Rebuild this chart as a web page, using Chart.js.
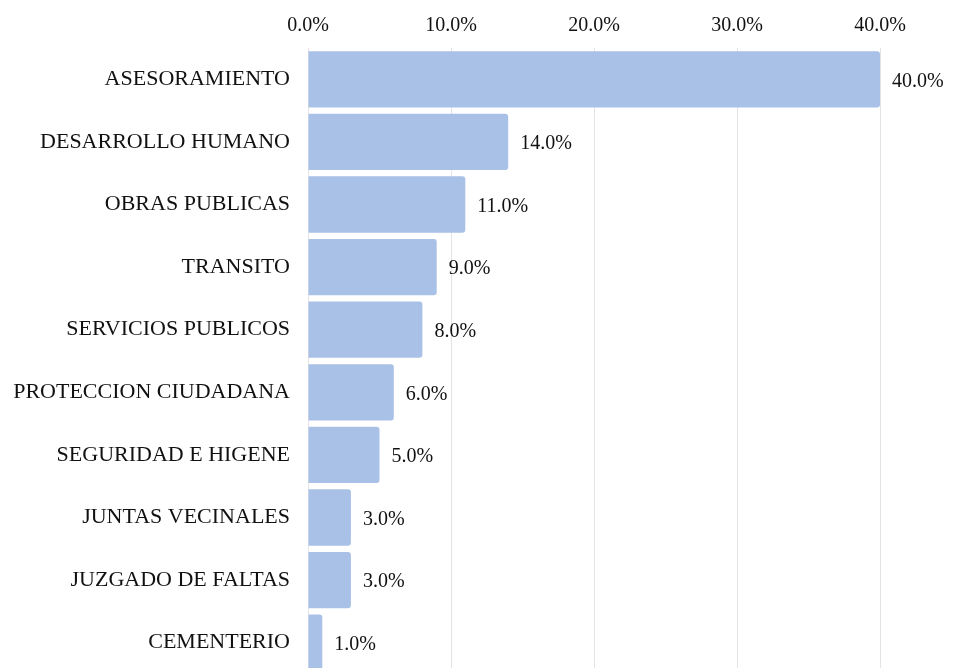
<!DOCTYPE html>
<html>
<head>
<meta charset="utf-8">
<script src="https://cdn.jsdelivr.net/npm/chart.js@4"></script>
<style>
  html, body { margin: 0; padding: 0; background: #fff; overflow: hidden; }
  canvas { display: block; }
</style>
</head>
<body>
<canvas id="barChart" width="956" height="674"></canvas>
<script>
const categories = [
  "ASESORAMIENTO",
  "DESARROLLO HUMANO",
  "OBRAS PUBLICAS",
  "TRANSITO",
  "SERVICIOS PUBLICOS",
  "PROTECCION CIUDADANA",
  "SEGURIDAD E HIGENE",
  "JUNTAS VECINALES",
  "JUZGADO DE FALTAS",
  "CEMENTERIO"
];
const percentages = [40, 14, 11, 9, 8, 6, 5, 3, 3, 1];
const tickValues = [0, 10, 20, 30, 40];

const barColor = "#a9c1e7";
const serif = "'Liberation Serif', 'Times New Roman', serif";

// draws the value next to each bar
const valueLabels = {
  id: "valueLabels",
  afterDatasetsDraw(chart) {
    const ctx = chart.ctx;
    const meta = chart.getDatasetMeta(0);
    ctx.save();
    ctx.font = "20px " + serif;
    ctx.fillStyle = "#111";
    ctx.textAlign = "left";
    ctx.textBaseline = "middle";
    meta.data.forEach((bar, i) => {
      ctx.fillText(percentages[i].toFixed(1) + "%", bar.x + 12, bar.y + 2);
    });
    ctx.restore();
  }
};

const ctx = document.getElementById("barChart").getContext("2d");
new Chart(ctx, {
  type: "bar",
  data: {
    labels: categories,
    datasets: [
      {
        data: percentages,
        backgroundColor: barColor,
        borderRadius: 3,
        borderSkipped: "start",
        categoryPercentage: 0.9,
        barPercentage: 1.0
      }
    ]
  },
  options: {
    indexAxis: "y",
    responsive: false,
    animation: false,
    layout: { padding: { left: 0, right: 76, top: 0, bottom: 0 } },
    plugins: {
      legend: { display: false },
      tooltip: { enabled: false }
    },
    scales: {
      x: {
        position: "top",
        min: 0,
        max: 40,
        afterBuildTicks(scale) {
          scale.ticks = tickValues.map((v) => ({ value: v }));
        },
        afterFit(scale) {
          scale.height = 48;
        },
        grid: { color: "#e4e4e4", drawTicks: false },
        border: { display: false },
        ticks: {
          padding: 10,
          color: "#111",
          font: { family: serif, size: 20 },
          callback: (v) => v.toFixed(1) + "%"
        }
      },
      y: {
        afterFit(scale) {
          scale.width = 308;
          scale.paddingTop = 0;
          scale.paddingBottom = 0;
        },
        grid: { display: false, drawTicks: false },
        border: { display: false },
        ticks: {
          padding: 18,
          color: "#111",
          font: { family: serif, size: 22 }
        }
      }
    }
  },
  plugins: [valueLabels]
});
</script>
</body>
</html>
